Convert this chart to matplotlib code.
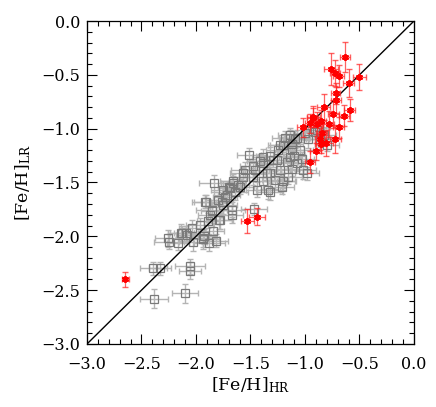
"""[Fe/H] from low-resolution vs high-resolution spectra."""

import matplotlib

matplotlib.use("Agg")
import matplotlib.pyplot as plt
from matplotlib.ticker import MultipleLocator

plt.rcParams["font.family"] = ["DejaVu Serif"]
plt.rcParams["mathtext.fontset"] = "dejavuserif"

# gray squares: [Fe/H]_HR, [Fe/H]_LR and their errors
gray_hr = [
    -2.39, -2.33, -2.055, -2.055, -2.385, -2.10, -2.254, -2.248, -2.162, -2.138,
    -2.094, -2.025, -1.94, -1.93, -1.878, -1.82, -1.84, -2.04, -1.963, -1.893,
    -1.789, -1.872, -1.856, -1.673, -1.673, -1.908, -1.85, -1.795, -1.734, -1.75,
    -1.764, -1.718, -1.832, -1.663, -1.688, -1.642, -1.596, -1.612, -1.75, -1.658,
    -1.566, -1.566, -1.55, -1.511, -1.474, -1.443, -1.468, -1.337, -1.383, -1.321,
    -1.383, -1.291, -1.229, -1.199, -1.153, -1.229, -1.138, -1.076, -0.985, -1.138,
    -1.183, -1.138, -1.092, -1.199, -1.245, -1.321, -1.383, -1.413, -1.26, -1.168,
    -1.474, -1.459, -1.351, -1.122, -1.275, -1.199, -1.70, -1.321, -1.214, -1.917,
    -1.78, -2.13, -2.085, -1.933, -0.908, -1.0, -1.076, -1.12, -1.122, -1.015,
    -0.893, -0.83, -1.05, -1.10, -1.03, -0.97, -0.86, -0.80, -0.87,
]
gray_lr = [
    -2.296, -2.296, -2.28, -2.32, -2.58, -2.53, -2.018, -2.05, -2.064, -1.97,
    -1.97, -2.055, -2.024, -2.0, -2.058, -2.04, -1.947, -1.925, -1.894, -1.854,
    -1.848, -1.80, -1.755, -1.80, -1.755, -1.677, -1.764, -1.662, -1.631, -1.708,
    -1.677, -1.616, -1.507, -1.507, -1.553, -1.585, -1.538, -1.523, -1.569, -1.49,
    -1.414, -1.446, -1.383, -1.244, -1.446, -1.569, -1.746, -1.569, -1.49, -1.414,
    -1.321, -1.29, -1.383, -1.49, -1.446, -1.151, -1.09, -1.321, -1.414, -1.26,
    -1.09, -1.058, -1.098, -1.151, -1.198, -1.253, -1.26, -1.297, -1.29, -1.306,
    -1.346, -1.383, -1.414, -1.377, -1.476, -1.483, -1.545, -1.585, -1.538, -1.677,
    -1.848, -1.971, -1.987, -2.018, -1.028, -1.043, -1.09, -1.14, -1.198, -1.383,
    -1.012, -1.058, -1.20, -1.25, -1.28, -1.10, -1.10, -1.15, -0.98,
]
gray_hr_err = [
    0.12, 0.10, 0.14, 0.10, 0.13, 0.12, 0.12, 0.14, 0.10, 0.12,
    0.11, 0.13, 0.15, 0.12, 0.14, 0.11, 0.10, 0.12, 0.13, 0.10,
    0.12, 0.11, 0.14, 0.10, 0.12, 0.13, 0.10, 0.12, 0.11, 0.13,
    0.10, 0.12, 0.14, 0.11, 0.10, 0.12, 0.13, 0.10, 0.11, 0.12,
    0.12, 0.10, 0.13, 0.11, 0.12, 0.10, 0.12, 0.11, 0.13, 0.10,
    0.12, 0.11, 0.10, 0.12, 0.13, 0.11, 0.10, 0.12, 0.11, 0.10,
    0.12, 0.11, 0.10, 0.12, 0.11, 0.13, 0.10, 0.12, 0.11, 0.10,
    0.12, 0.11, 0.13, 0.10, 0.12, 0.11, 0.10, 0.12, 0.11, 0.10,
    0.12, 0.11, 0.10, 0.12, 0.10, 0.11, 0.12, 0.10, 0.11, 0.12,
    0.10, 0.11, 0.12, 0.10, 0.11, 0.12, 0.10, 0.11, 0.10,
]
gray_lr_err = [
    0.06, 0.06, 0.07, 0.08, 0.09, 0.09, 0.08, 0.07, 0.06, 0.08,
    0.07, 0.08, 0.09, 0.07, 0.08, 0.06, 0.07, 0.08, 0.06, 0.07,
    0.08, 0.07, 0.06, 0.08, 0.07, 0.06, 0.08, 0.07, 0.06, 0.08,
    0.07, 0.06, 0.08, 0.07, 0.06, 0.08, 0.07, 0.06, 0.08, 0.07,
    0.06, 0.08, 0.07, 0.06, 0.08, 0.07, 0.06, 0.08, 0.07, 0.06,
    0.08, 0.07, 0.06, 0.08, 0.07, 0.06, 0.08, 0.07, 0.06, 0.08,
    0.07, 0.06, 0.08, 0.07, 0.06, 0.08, 0.07, 0.06, 0.08, 0.07,
    0.06, 0.08, 0.07, 0.06, 0.08, 0.07, 0.06, 0.08, 0.07, 0.06,
    0.08, 0.07, 0.06, 0.08, 0.07, 0.06, 0.08, 0.07, 0.06, 0.08,
    0.07, 0.06, 0.08, 0.07, 0.06, 0.08, 0.07, 0.06, 0.08,
]

# red asterisks
red_hr = [
    -0.633, -0.761, -0.725, -0.691, -0.50, -0.60, -0.718, -0.715, -0.826, -0.59,
    -0.74, -0.642, -0.924, -0.856, -0.954, -0.893, -0.783, -0.69, -1.015, -0.847,
    -0.722, -0.807, -0.862, -0.856, -0.902, -0.954, -1.529, -1.44, -2.648, -0.93,
]
red_lr = [
    -0.337, -0.446, -0.486, -0.51, -0.523, -0.573, -0.672, -0.73, -0.796, -0.826,
    -0.863, -0.879, -0.888, -0.928, -0.95, -0.956, -0.96, -0.987, -0.987, -1.043,
    -1.096, -1.13, -1.098, -1.14, -1.21, -1.309, -1.857, -1.817, -2.398, -0.898,
]
red_hr_err = [
    0.05, 0.06, 0.05, 0.05, 0.06, 0.05, 0.04, 0.05, 0.06, 0.05,
    0.05, 0.05, 0.06, 0.05, 0.05, 0.06, 0.05, 0.05, 0.06, 0.05,
    0.05, 0.06, 0.05, 0.05, 0.05, 0.05, 0.06, 0.07, 0.03, 0.05,
]
red_lr_err = [
    0.14, 0.15, 0.12, 0.10, 0.12, 0.13, 0.10, 0.12, 0.12, 0.10,
    0.13, 0.10, 0.10, 0.10, 0.09, 0.11, 0.12, 0.10, 0.09, 0.10,
    0.13, 0.12, 0.10, 0.09, 0.08, 0.10, 0.11, 0.08, 0.07, 0.09,
]


def minus_fmt(v, _):
    return f"{v:.1f}".replace("-", "\u2212")


def main() -> None:
    fig = plt.figure(figsize=(4.36, 4.07), dpi=100)
    ax = fig.add_axes([0.1995, 0.1548, 0.75, 0.7936])

    ax.errorbar(
        gray_hr, gray_lr, xerr=gray_hr_err, yerr=gray_lr_err,
        fmt="none", ecolor="#b4b4b4", elinewidth=1.0, capsize=2.2, zorder=1,
    )
    ax.plot(
        gray_hr, gray_lr, linestyle="none", marker="s", markersize=5.2,
        markerfacecolor="none", markeredgecolor="#7a7a7a", markeredgewidth=0.9,
        zorder=2,
    )

    ax.plot([-3, 0], [-3, 0], color="black", linewidth=1.0, zorder=3)

    ax.errorbar(
        red_hr, red_lr, xerr=red_hr_err, yerr=red_lr_err,
        fmt="none", ecolor="#ff2020", alpha=0.7, elinewidth=0.9, capsize=2.5,
        zorder=4,
    )
    ax.plot(
        red_hr, red_lr, linestyle="none", marker=(6, 2, 0), markersize=5,
        markeredgecolor="red", markeredgewidth=1.3, zorder=5,
    )

    ax.set_xlim(-3, 0)
    ax.set_ylim(-3, 0)
    ax.xaxis.set_major_locator(MultipleLocator(0.5))
    ax.yaxis.set_major_locator(MultipleLocator(0.5))
    ax.xaxis.set_minor_locator(MultipleLocator(0.1))
    ax.yaxis.set_minor_locator(MultipleLocator(0.1))
    ax.xaxis.set_major_formatter(minus_fmt)
    ax.yaxis.set_major_formatter(minus_fmt)
    ax.tick_params(which="both", direction="in", top=True, right=True,
                   labelsize=11.5, width=0.8)
    ax.tick_params(which="major", length=7)
    ax.tick_params(which="minor", length=3.5)
    ax.tick_params(axis="x", which="major", pad=9)
    ax.tick_params(axis="y", which="major", pad=5)
    for spine in ax.spines.values():
        spine.set_linewidth(0.9)

    ax.set_xlabel(r"[Fe/H]$_{\rm HR}$", fontsize=12.5, labelpad=1)
    ax.set_ylabel(r"[Fe/H]$_{\rm LR}$", fontsize=12.5, labelpad=6)

    fig.savefig("out.png", dpi=100)
    plt.close(fig)


if __name__ == "__main__":
    main()
